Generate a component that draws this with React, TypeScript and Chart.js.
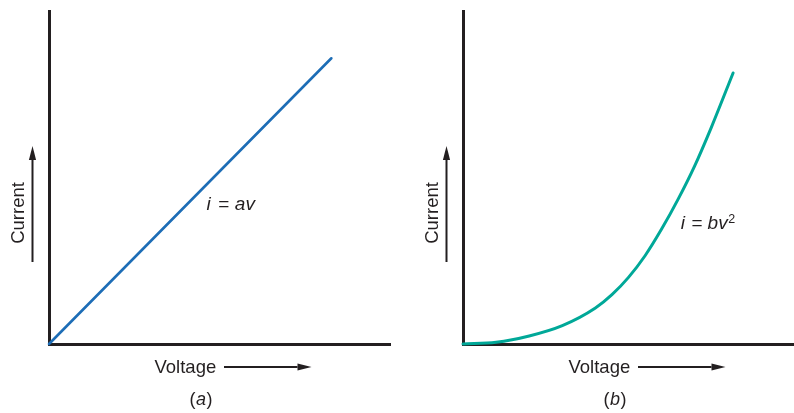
import { useEffect, useRef } from "react";
import { Chart, registerables } from "chart.js";

Chart.register(...registerables);

// Linear element: current proportional to voltage
const voltageLinear = [0, 8.28];
const currentLinear = [0, 8.58];

// Square-law element: current grows with the square of voltage
const voltageSquare = [0, 1, 2, 3, 4, 4.5, 5, 5.5, 6, 6.5, 7, 7.5, 8.16];
const currentSquare = [0, 0.05, 0.24, 0.55, 1.08, 1.48, 2.0, 2.65, 3.45, 4.35, 5.35, 6.5, 8.14];

const axisMax = 10;
const yTitle = "Current";
const xTitle = "Voltage";
const captionLetters = ["a", "b"];

const FONT = '"Liberation Sans", Arial, Helvetica, sans-serif';
const INK = "#231f20";
const BLUE = "#1d6db6";
const TEAL = "#00a898";

type Run = { text: string; italic?: boolean; size?: number; rise?: number; gap?: number };

function fontOf(r: Run) {
  return `${r.italic ? "italic " : ""}${r.size ?? 18}px ${FONT}`;
}

function drawRuns(ctx: CanvasRenderingContext2D, runs: Run[], x: number, y: number, center: boolean) {
  let total = 0;
  const widths = runs.map((r) => {
    ctx.font = fontOf(r);
    const w = ctx.measureText(r.text).width;
    total += (r.gap ?? 0) + w;
    return w;
  });
  let cx = center ? x - total / 2 : x;
  runs.forEach((r, i) => {
    cx += r.gap ?? 0;
    ctx.font = fontOf(r);
    ctx.fillText(r.text, cx, y - (r.rise ?? 0));
    cx += widths[i];
  });
}

function drawArrow(ctx: CanvasRenderingContext2D, x1: number, y1: number, x2: number, y2: number) {
  const ang = Math.atan2(y2 - y1, x2 - x1);
  const headLen = 14;
  const headHalf = 3.6;
  const bx = x2 - Math.cos(ang) * headLen;
  const by = y2 - Math.sin(ang) * headLen;
  ctx.beginPath();
  ctx.moveTo(x1, y1);
  ctx.lineTo(bx, by);
  ctx.lineWidth = 2;
  ctx.strokeStyle = INK;
  ctx.stroke();
  ctx.beginPath();
  ctx.moveTo(x2, y2);
  ctx.lineTo(bx - Math.sin(ang) * headHalf, by + Math.cos(ang) * headHalf);
  ctx.lineTo(bx + Math.sin(ang) * headHalf, by - Math.cos(ang) * headHalf);
  ctx.closePath();
  ctx.fillStyle = INK;
  ctx.fill();
}

function annotations(letter: string, equation: Run[], eqV: number, eqI: number) {
  return {
    id: "annotations",
    afterDraw(chart: Chart) {
      const ctx = chart.ctx;
      const ca = chart.chartArea;
      ctx.save();
      ctx.fillStyle = INK;
      ctx.textBaseline = "alphabetic";
      ctx.textAlign = "left";

      // vertical axis title with arrow
      drawArrow(ctx, ca.left - 16.5, ca.bottom - 82, ca.left - 16.5, ca.bottom - 198);
      ctx.save();
      ctx.translate(ca.left - 25, ca.bottom - 131);
      ctx.rotate(-Math.PI / 2);
      ctx.font = `18.5px ${FONT}`;
      ctx.textAlign = "center";
      ctx.fillText(yTitle, 0, 0);
      ctx.restore();

      // horizontal axis title with arrow
      ctx.font = `18.5px ${FONT}`;
      ctx.textAlign = "left";
      ctx.fillText(xTitle, ca.left + 105.5, ca.bottom + 28.5);
      drawArrow(ctx, ca.left + 175, ca.bottom + 23, ca.left + 262.5, ca.bottom + 23);

      // panel caption
      drawRuns(
        ctx,
        [{ text: "(" }, { text: letter, italic: true, gap: 0.5 }, { text: ")", gap: 0.5 }],
        ca.left + 152,
        ca.bottom + 61,
        true
      );

      // curve equation
      const ex = chart.scales.x.getPixelForValue(eqV);
      const ey = chart.scales.y.getPixelForValue(eqI);
      drawRuns(ctx, equation, ex, ey, false);
      ctx.restore();
    },
  };
}

function makeChart(
  canvas: HTMLCanvasElement,
  xs: number[],
  ys: number[],
  color: string,
  width: number,
  smooth: boolean,
  padding: { left: number; top: number; right: number; bottom: number },
  plugin: any
) {
  const axis = {
    type: "linear" as const,
    min: 0,
    max: axisMax,
    grid: { display: false, drawTicks: false },
    ticks: { display: false },
    border: { display: true, color: INK, width: 3 },
  };
  return new Chart(canvas, {
    type: "line",
    data: {
      datasets: [
        {
          data: xs.map((v, i) => ({ x: v, y: ys[i] })),
          borderColor: color,
          borderWidth: width,
          pointRadius: 0,
          fill: false,
          clip: false as any,
          cubicInterpolationMode: smooth ? "monotone" : "default",
          borderCapStyle: "round",
        },
      ],
    },
    options: {
      animation: false,
      responsive: false,
      maintainAspectRatio: false,
      events: [],
      layout: { padding },
      plugins: { legend: { display: false }, tooltip: { enabled: false }, title: { display: false } },
      scales: { x: axis, y: axis },
    },
    plugins: [plugin],
  });
}

export default function App() {
  const leftRef = useRef<HTMLCanvasElement>(null);
  const rightRef = useRef<HTMLCanvasElement>(null);

  useEffect(() => {
    const a = makeChart(
      leftRef.current!,
      voltageLinear,
      currentLinear,
      BLUE,
      2.6,
      false,
      { left: 49, top: 11, right: 7, bottom: 69 },
      annotations(
        captionLetters[0],
        [
          { text: "i", italic: true, size: 19 },
          { text: "=", gap: 7.5, size: 19 },
          { text: "av", italic: true, gap: 5.5, size: 19 },
        ],
        4.62,
        4.02
      )
    );
    const b = makeChart(
      rightRef.current!,
      voltageSquare,
      currentSquare,
      TEAL,
      3,
      true,
      { left: 66, top: 11, right: 0, bottom: 69 },
      annotations(
        captionLetters[1],
        [
          { text: "i", italic: true, size: 19 },
          { text: "=", gap: 6.5, size: 19 },
          { text: "bv", italic: true, gap: 5, size: 19 },
          { text: "2", size: 12.5, rise: 6, gap: 0.5 },
        ],
        6.58,
        3.45
      )
    );
    return () => {
      a.destroy();
      b.destroy();
    };
  }, []);

  return (
    <div style={{ position: "fixed", left: 0, top: 0, width: 794, height: 413, background: "#fff" }}>
      <canvas ref={leftRef} width={397} height={413} style={{ position: "absolute", left: 0, top: 0 }} />
      <canvas ref={rightRef} width={397} height={413} style={{ position: "absolute", left: 397, top: 0 }} />
    </div>
  );
}
